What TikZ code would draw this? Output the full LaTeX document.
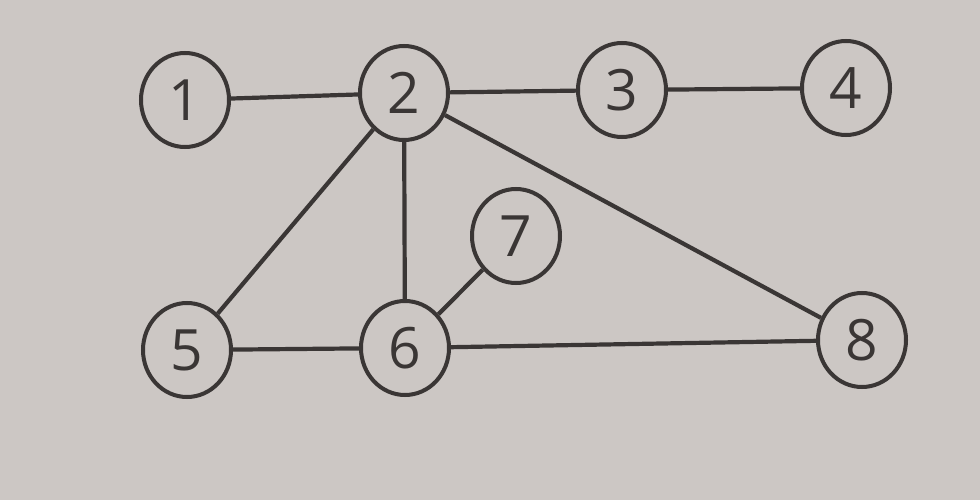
\documentclass[tikz,border=0pt]{standalone}
\usepackage{fontspec}
\setmainfont{Open Sans}
\usetikzlibrary{shapes.geometric}
\definecolor{paper}{RGB}{204,199,196}
\definecolor{ink}{RGB}{58,54,53}
\tikzset{
  vtx/.style={ellipse, draw=ink, line width=4pt, minimum width=88pt, minimum height=94pt, inner sep=0pt, text=ink, font=\fontsize{57}{57}\selectfont},
  edge/.style={draw=ink, line width=4.2pt}
}
\begin{document}
\begin{tikzpicture}[x=1pt,y=-1pt]
\fill[paper] (0,0) rectangle (980,500);
\useasboundingbox (0,0) rectangle (980,500);
\node[vtx] (n1) at (185,100) {1};
\node[vtx] (n2) at (404,93) {2};
\node[vtx] (n3) at (622,90) {3};
\node[vtx] (n4) at (846,88) {4};
\node[vtx] (n5) at (187,350) {5};
\node[vtx] (n6) at (405,348) {6};
\node[vtx] (n7) at (516,236) {7};
\node[vtx] (n8) at (862,340) {8};
\draw[edge] (n1) -- (n2);
\draw[edge] (n2) -- (n3);
\draw[edge] (n3) -- (n4);
\draw[edge] (n2) -- (n5);
\draw[edge] (n2) -- (n6);
\draw[edge] (n2) -- (n8);
\draw[edge] (n5) -- (n6);
\draw[edge] (n6) -- (n7);
\draw[edge] (n6) -- (n8);
\end{tikzpicture}
\end{document}
